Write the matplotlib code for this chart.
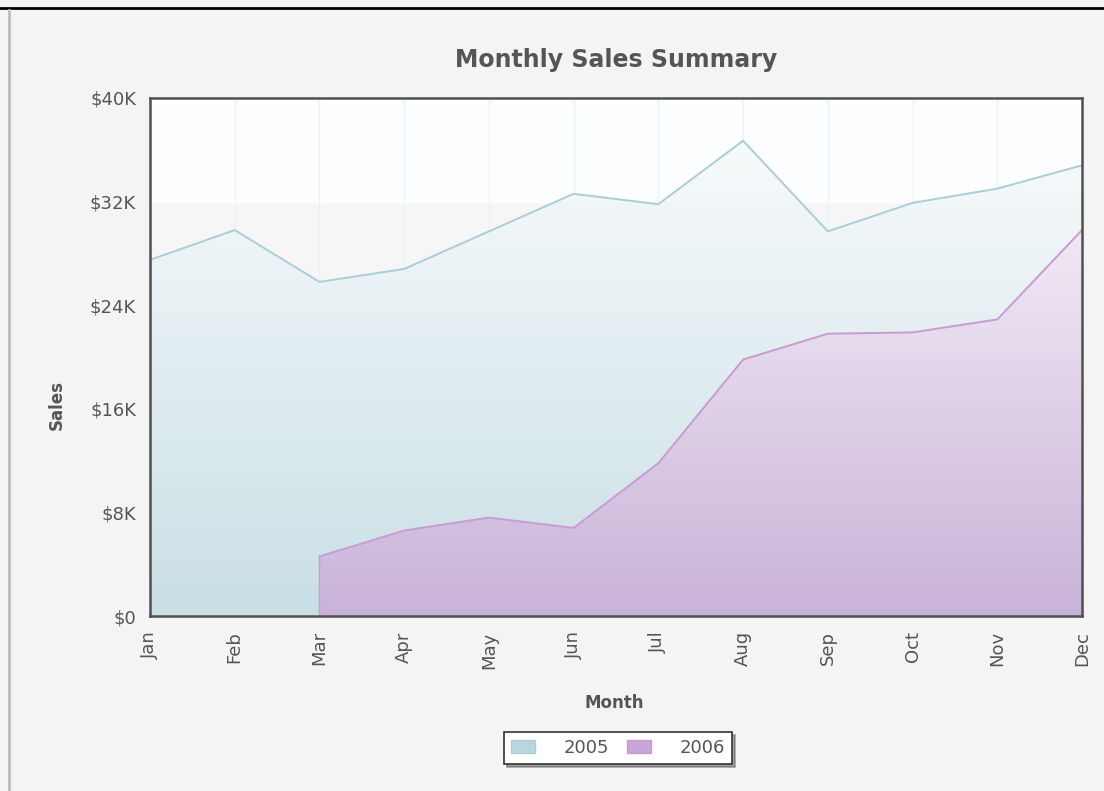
import numpy as np
import matplotlib
matplotlib.use("Agg")
import matplotlib.pyplot as plt
from matplotlib.colors import LinearSegmentedColormap
from matplotlib.patches import Patch
from matplotlib.lines import Line2D

months = ["Jan", "Feb", "Mar", "Apr", "May", "Jun", "Jul", "Aug", "Sep", "Oct", "Nov", "Dec"]
sales_2005 = [27500, 29800, 25800, 26800, 29700, 32600, 31800, 36700, 29700, 31900, 33000, 34800]
# 2006 starts in March
sales_2006 = [None, None, 4600, 6600, 7600, 6800, 11800, 19800, 21800, 21900, 22900, 29800]
y_ticks = [0, 8000, 16000, 24000, 32000, 40000]
y_labels = ["$0", "$8K", "$16K", "$24K", "$32K", "$40K"]

series = [
    ("2005", sales_2005, "#f7fafb", "#c9dfe5", "#a9ced7"),
    ("2006", sales_2006, "#f1e9f4", "#c9b3d9", "#c99bd2"),
]

fig = plt.figure(figsize=(11.04, 7.91), dpi=100, facecolor="#f4f4f4")
ax = fig.add_axes([150 / 1104, 1 - 616 / 791, (1082 - 150) / 1104, (616 - 98) / 791])
ax.set_facecolor("#f6f6f6")
ax.axhspan(32000, 40000, color="#fdfeff", zorder=0)

x_all = np.arange(len(months))
for i in x_all:
    ax.axvline(i, color="#ebf3fa", lw=1, zorder=1)

for name, vals, c_top, c_bot, c_line in series:
    idx = [i for i, v in enumerate(vals) if v is not None]
    xs = np.array(idx, dtype=float)
    ys = np.array([vals[i] for i in idx], dtype=float)
    poly = ax.fill_between(xs, 0, ys, color="none", lw=0, zorder=2)
    cmap = LinearSegmentedColormap.from_list(name, [c_bot, c_top])
    top = ys.max()
    grad = np.linspace(0, 1, 256).reshape(-1, 1)
    im = ax.imshow(grad, cmap=cmap, aspect="auto", origin="lower",
                   extent=[xs.min(), xs.max(), 0, top], zorder=2)
    im.set_clip_path(poly.get_paths()[0], transform=ax.transData)
    ax.plot(xs, ys, color=c_line, lw=1.4, zorder=3)
    if xs.min() > 0:
        ax.plot([xs.min(), xs.min()], [0, ys[0]], color=c_line, lw=1, zorder=3)

ax.set_xlim(0, 11)
ax.set_ylim(0, 40000)
ax.set_yticks(y_ticks)
ax.set_yticklabels(y_labels)
ax.set_xticks(x_all)
ax.set_xticklabels(months, rotation=90)
ax.tick_params(axis="both", length=0, labelsize=13, labelcolor="#555555")
ax.tick_params(axis="y", pad=10)
ax.tick_params(axis="x", pad=11)
for s in ax.spines.values():
    s.set_color("#505050")
    s.set_linewidth(1.8)
    s.set_zorder(5)

fig.text(616 / 1104, 1 - 60 / 791, "Monthly Sales Summary", ha="center", va="center",
         fontsize=17, fontweight="bold", color="#555555")
fig.text(57 / 1104, 1 - 405 / 791, "Sales", ha="center", va="center", rotation=90,
         fontsize=12, fontweight="bold", color="#555555")
fig.text(614 / 1104, 1 - 703 / 791, "Month", ha="center", va="center",
         fontsize=12, fontweight="bold", color="#555555")

handles = [Patch(facecolor="#b8d6de", edgecolor="#a9ced7"),
           Patch(facecolor="#c9a6d6", edgecolor="#c99bd2")]
leg = fig.legend(handles, ["2005", "2006"], loc="center", bbox_to_anchor=(618 / 1104, 1 - 748 / 791),
                 ncol=2, fontsize=13, frameon=True, fancybox=False, shadow=True,
                 edgecolor="#333333", handlelength=1.3, handleheight=0.7, columnspacing=1.0,
                 handletextpad=1.6, borderpad=0.4, borderaxespad=0.3)
leg.get_frame().set_linewidth(1.2)
for t in leg.get_texts():
    t.set_color("#555555")

# screenshot frame lines
fig.add_artist(Line2D([0, 1], [1 - 8 / 791, 1 - 8 / 791], color="black", lw=2, transform=fig.transFigure))
fig.add_artist(Line2D([9 / 1104, 9 / 1104], [0, 1 - 10 / 791], color="#bbbbbb", lw=2, transform=fig.transFigure))

fig.savefig("out.png", dpi=100, facecolor=fig.get_facecolor())
